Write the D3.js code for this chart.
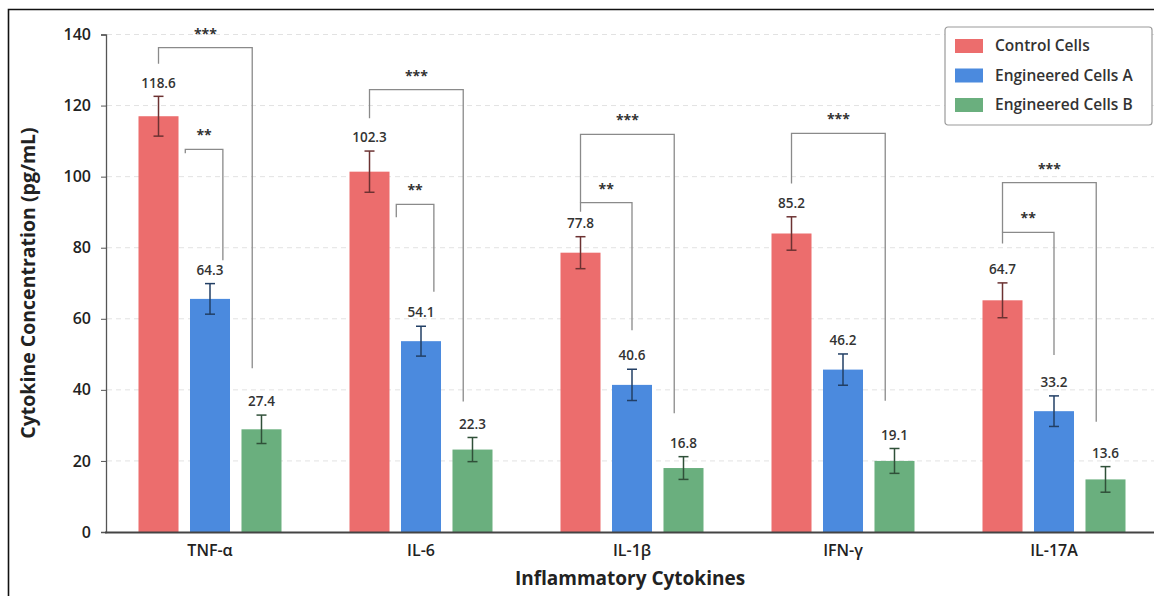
<!DOCTYPE html>
<html>
<head>
<meta charset="utf-8">
<script src="https://cdn.jsdelivr.net/npm/d3@7"></script>
<style>
  body { margin: 0; background: #fff; }
  text { font-family: "Open Sans", sans-serif; }
</style>
</head>
<body>
<div id="container"></div>
<script>
const categories = ["TNF-α", "IL-6", "IL-1β", "IFN-γ", "IL-17A"];
const series = ["Control Cells", "Engineered Cells A", "Engineered Cells B"];
const colors = ["#ec6d6d", "#4b8ade", "#6aaf7e"];

// bar heights and error half-widths
const control = [117.0, 101.4, 78.6, 84.0, 65.2];
const engA = [65.6, 53.7, 41.4, 45.7, 34.0];
const engB = [28.9, 23.2, 18.0, 20.0, 14.8];
const errControl = [5.6, 5.8, 4.5, 4.7, 4.9];
const errA = [4.3, 4.2, 4.4, 4.4, 4.3];
const errB = [4.0, 3.4, 3.2, 3.5, 3.6];

// printed value labels
const labelControl = ["118.6", "102.3", "77.8", "85.2", "64.7"];
const labelA = ["64.3", "54.1", "40.6", "46.2", "33.2"];
const labelB = ["27.4", "22.3", "16.8", "19.1", "13.6"];

const yTicks = [0, 20, 40, 60, 80, 100, 120, 140];

// significance brackets: category, left/right position (bar slot units, -1 = control, 0 = A, 1 = B),
// top value, left leg end, right leg end, stars
const brackets = [
  ["TNF-α", -1, 0.82, 136.3, 131.8, 46.1, "***"],
  ["TNF-α", -0.48, 0.25, 107.7, 106.6, 76.5, "**"],
  ["IL-6", -1, 0.82, 124.5, 116.4, 36.7, "***"],
  ["IL-6", -0.48, 0.25, 92.2, 88.6, 67.6, "**"],
  ["IL-1β", -1, 0.82, 111.9, 92.7, 33.4, "***"],
  ["IL-1β", -1, 0, 92.7, 90.1, 56.8, "**"],
  ["IFN-γ", -1, 0.82, 112.2, 98.1, 36.9, "***"],
  ["IL-17A", -1, 0.82, 98.3, 84.3, 31.0, "***"],
  ["IL-17A", -1, 0, 84.3, 81.2, 49.8, "**"]
];

const w = 1154;
const h = 596;

const svg = d3
  .select("#container")
  .append("svg")
  .attr("width", w)
  .attr("height", h)
  .attr("viewBox", `0 0 ${w} ${h}`);

svg.append("rect").attr("width", w).attr("height", h).attr("fill", "#fff");

// frame (image is cropped on the right and bottom)
svg
  .append("path")
  .attr("d", `M8.5,${h + 5} V9.5 H${w + 5}`)
  .attr("fill", "none")
  .attr("stroke", "#111")
  .attr("stroke-width", 1.6);

const x0 = d3.scaleBand().domain(categories).range([104.5, 1159.5]).padding(0);
const x1 = d3.scaleBand().domain(series).range([-71.5, 71.5]).paddingInner(0.223);
const slot = x1.step();
const y = d3.scaleLinear().domain([0, 140]).range([532, 34.5]);

// grid
svg
  .append("g")
  .selectAll("line")
  .data(yTicks.slice(1))
  .join("line")
  .attr("x1", 107)
  .attr("x2", w)
  .attr("y1", (d) => y(d))
  .attr("y2", (d) => y(d))
  .attr("stroke", "#e2e2e2")
  .attr("stroke-dasharray", "5,4");

const rows = [];
categories.forEach((c, i) => {
  const vals = [control[i], engA[i], engB[i]];
  const errs = [errControl[i], errA[i], errB[i]];
  const labs = [labelControl[i], labelA[i], labelB[i]];
  series.forEach((s, j) => {
    rows.push({ cat: c, s: s, j: j, v: vals[j], e: errs[j], lab: labs[j] });
  });
});

const cx = (d) => x0(d.cat) + x0.bandwidth() / 2 + x1(d.s) + x1.bandwidth() / 2;

svg
  .append("g")
  .selectAll("rect")
  .data(rows)
  .join("rect")
  .attr("x", (d) => cx(d) - x1.bandwidth() / 2)
  .attr("width", x1.bandwidth())
  .attr("y", (d) => y(d.v))
  .attr("height", (d) => y(0) - y(d.v))
  .attr("fill", (d) => colors[d.j]);

// error bars
const eg = svg.append("g").selectAll("g").data(rows).join("g");
eg.attr("stroke", (d) => d3.color(colors[d.j]).darker(2.2))
  .attr("stroke-width", 1.5);
eg.append("line")
  .attr("x1", cx)
  .attr("x2", cx)
  .attr("y1", (d) => y(d.v + d.e))
  .attr("y2", (d) => y(d.v - d.e));
eg.append("line")
  .attr("x1", (d) => cx(d) - 5)
  .attr("x2", (d) => cx(d) + 5)
  .attr("y1", (d) => y(d.v + d.e))
  .attr("y2", (d) => y(d.v + d.e));
eg.append("line")
  .attr("x1", (d) => cx(d) - 5)
  .attr("x2", (d) => cx(d) + 5)
  .attr("y1", (d) => y(d.v - d.e))
  .attr("y2", (d) => y(d.v - d.e));

// value labels
svg
  .append("g")
  .selectAll("text")
  .data(rows)
  .join("text")
  .attr("x", cx)
  .attr("y", (d) => y(d.v + d.e) - 13.5)
  .attr("dy", "0.35em")
  .attr("text-anchor", "middle")
  .attr("font-size", 13.5)
  .attr("font-weight", 600)
  .attr("fill", "#333")
  .text((d) => d.lab);

// brackets
const center = (c) => x0(c) + x0.bandwidth() / 2;
const bg = svg.append("g").selectAll("g").data(brackets).join("g");
bg.append("path")
  .attr("d", (b) => {
    const xa = center(b[0]) + b[1] * slot;
    const xb = center(b[0]) + b[2] * slot;
    return `M${xa},${y(b[4])} V${y(b[3])} H${xb} V${y(b[5])}`;
  })
  .attr("fill", "none")
  .attr("stroke", "#8a8a8a")
  .attr("stroke-width", 1.3);
bg.append("text")
  .attr("x", (b) => center(b[0]) + ((b[1] + b[2]) / 2) * slot)
  .attr("y", (b) => y(b[3]) - 9)
  .attr("text-anchor", "middle")
  .attr("font-size", 14)
  .attr("font-weight", 700)
  .attr("fill", "#333")
  .text((b) => b[6]);

// axes
const yAxis = d3.axisLeft(y).tickValues(yTicks).tickSize(5).tickPadding(10);
const gy = svg.append("g").attr("transform", "translate(106,0)").call(yAxis);
gy.select(".domain").attr("stroke", "#555").attr("stroke-width", 1.3);
gy.selectAll(".tick line").attr("stroke", "#555");
gy.selectAll(".tick text")
  .attr("font-size", 16)
  .attr("font-weight", 600)
  .attr("fill", "#222")
  .style("font-family", '"Open Sans", sans-serif');

const xAxis = d3.axisBottom(x0).tickSize(0).tickPadding(13);
const gx = svg.append("g").attr("transform", "translate(0,532)").call(xAxis);
gx.select(".domain").attr("stroke", "#444").attr("stroke-width", 2);
gx.selectAll(".tick text")
  .attr("font-size", 16)
  .attr("font-weight", 600)
  .attr("fill", "#222")
  .style("font-family", '"Open Sans", sans-serif');

svg
  .append("text")
  .attr("x", 630)
  .attr("y", 585)
  .attr("text-anchor", "middle")
  .attr("font-size", 19)
  .attr("font-weight", 700)
  .attr("fill", "#222")
  .text("Inflammatory Cytokines");

svg
  .append("text")
  .attr("text-anchor", "middle")
  .attr("transform", "translate(35, 283) rotate(-90)")
  .attr("font-size", 19.5)
  .attr("font-weight", 700)
  .attr("fill", "#222")
  .text("Cytokine Concentration (pg/mL)");

// legend
const legend = svg.append("g").attr("transform", "translate(945,27)");
legend
  .append("rect")
  .attr("width", 207)
  .attr("height", 98)
  .attr("rx", 3)
  .attr("fill", "#fff")
  .attr("stroke", "#9a9a9a")
  .attr("stroke-width", 1.2);
const li = legend
  .selectAll("g")
  .data(series)
  .join("g")
  .attr("transform", (d, i) => `translate(10, ${19 + i * 29.5})`);
li.append("rect")
  .attr("y", -7)
  .attr("width", 28)
  .attr("height", 14)
  .attr("fill", (d, i) => colors[i]);
li.append("text")
  .attr("x", 40)
  .attr("dy", "0.35em")
  .attr("font-size", 15.5)
  .attr("font-weight", 600)
  .attr("fill", "#333")
  .text((d) => d);
</script>
</body>
</html>
